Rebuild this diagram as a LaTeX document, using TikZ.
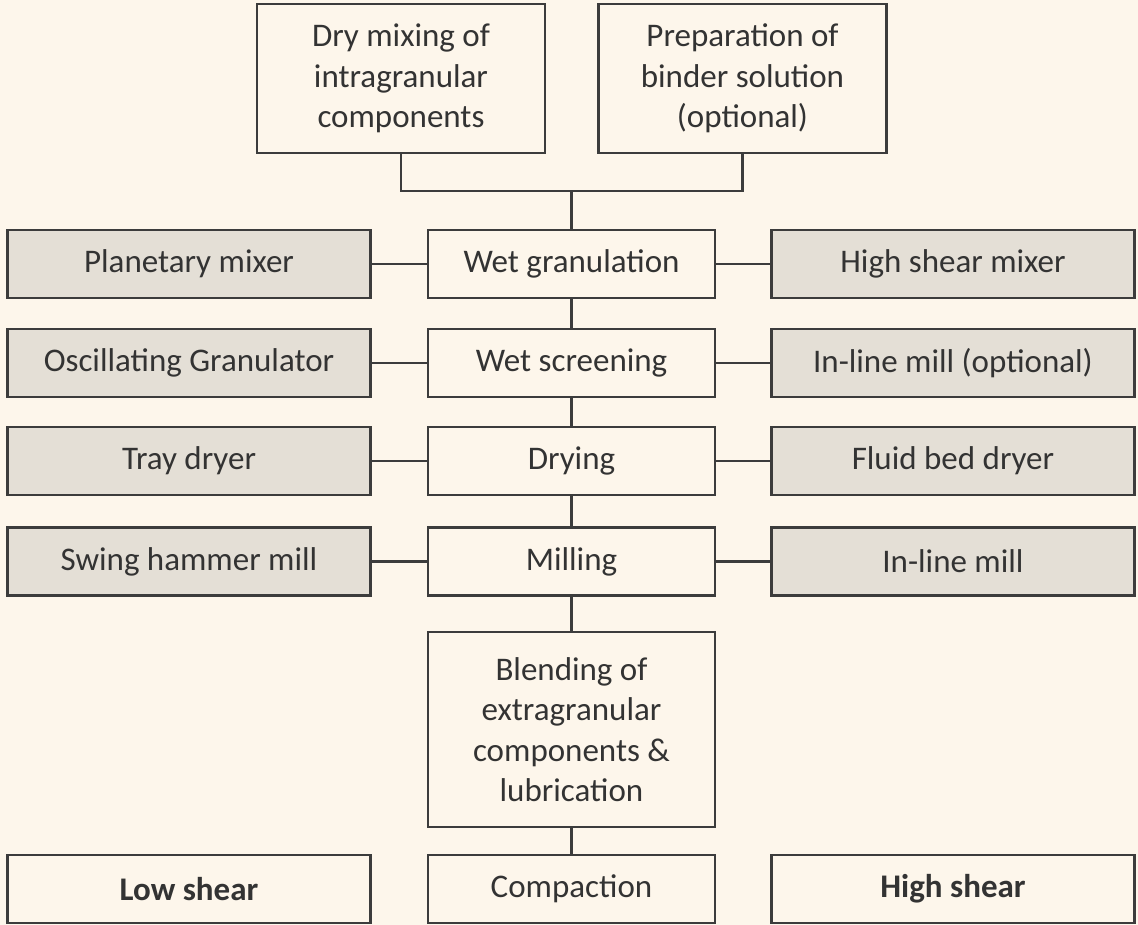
\documentclass[tikz,border=0pt]{standalone}
\usepackage{fontspec}
\setmainfont{Carlito}
\definecolor{bgc}{HTML}{FDF6EB}
\definecolor{grayfill}{HTML}{E4DFD6}
\definecolor{linec}{HTML}{3C3C3C}
\definecolor{textc}{HTML}{333333}
\begin{document}
\begin{tikzpicture}[x=1pt,y=-1pt,
  box/.style={draw=linec,line width=2.8pt,fill=bgc,inner sep=0pt,align=center,text=textc,
    font=\fontsize{33}{40.5}\selectfont},
  midbox/.style={box,minimum width=287pt,minimum height=68pt},
  sidebox/.style={box,fill=grayfill,minimum width=363pt,minimum height=68pt},
  plainside/.style={box,minimum width=363pt,minimum height=68pt},
  topbox/.style={box,minimum width=288pt,minimum height=149pt},
  link/.style={draw=linec,line width=2.8pt}]
\fill[bgc] (0,0) rectangle (1138,925);
\useasboundingbox (0,0) rectangle (1138,925);
% top
\node[topbox] (dry) at (401,78.5) {Dry mixing of\\intragranular\\components};
\node[topbox] (prep) at (742.5,78.5) {Preparation of\\binder solution\\(optional)};
% middle column
\node[midbox] (wg) at (571.5,264) {Wet granulation};
\node[midbox] (ws) at (571.5,363) {Wet screening};
\node[midbox] (dr) at (571.5,461) {Drying};
\node[midbox] (ml) at (571.5,561.5) {Milling};
\node[midbox,minimum height=195pt] (bl) at (571.5,729.5) {Blending of\\extragranular\\components \&\\lubrication};
\node[midbox] (cp) at (571.5,889) {Compaction};
% left column
\node[sidebox] (pm) at (189,264) {Planetary mixer};
\node[sidebox] (og) at (189,363) {Oscillating Granulator};
\node[sidebox] (td) at (189,461) {Tray dryer};
\node[sidebox] (sh) at (189,561.5) {Swing hammer mill};
\node[plainside] (ls) at (189,889) {\bfseries Low shear};
% right column
\node[sidebox] (hm) at (953,264) {High shear mixer};
\node[sidebox] (im) at (953,363) {In-line mill (optional)};
\node[sidebox] (fb) at (953,461) {Fluid bed dryer};
\node[sidebox] (il) at (953,561.5) {In-line mill};
\node[plainside] (hs) at (953,889) {\bfseries High shear};
% bracket
\coordinate (j) at (571.5,191);
\draw[link] (dry.south) |- (j) -| (prep.south);
\draw[link] (j) -- (wg.north);
% vertical chain
\draw[link] (wg.south) -- (ws.north);
\draw[link] (ws.south) -- (dr.north);
\draw[link] (dr.south) -- (ml.north);
\draw[link] (ml.south) -- (bl.north);
\draw[link] (bl.south) -- (cp.north);
% side links
\draw[link] (pm.east) -- (wg.west);
\draw[link] (og.east) -- (ws.west);
\draw[link] (td.east) -- (dr.west);
\draw[link] (sh.east) -- (ml.west);
\draw[link] (wg.east) -- (hm.west);
\draw[link] (ws.east) -- (im.west);
\draw[link] (dr.east) -- (fb.west);
\draw[link] (ml.east) -- (il.west);
\end{tikzpicture}
\end{document}
